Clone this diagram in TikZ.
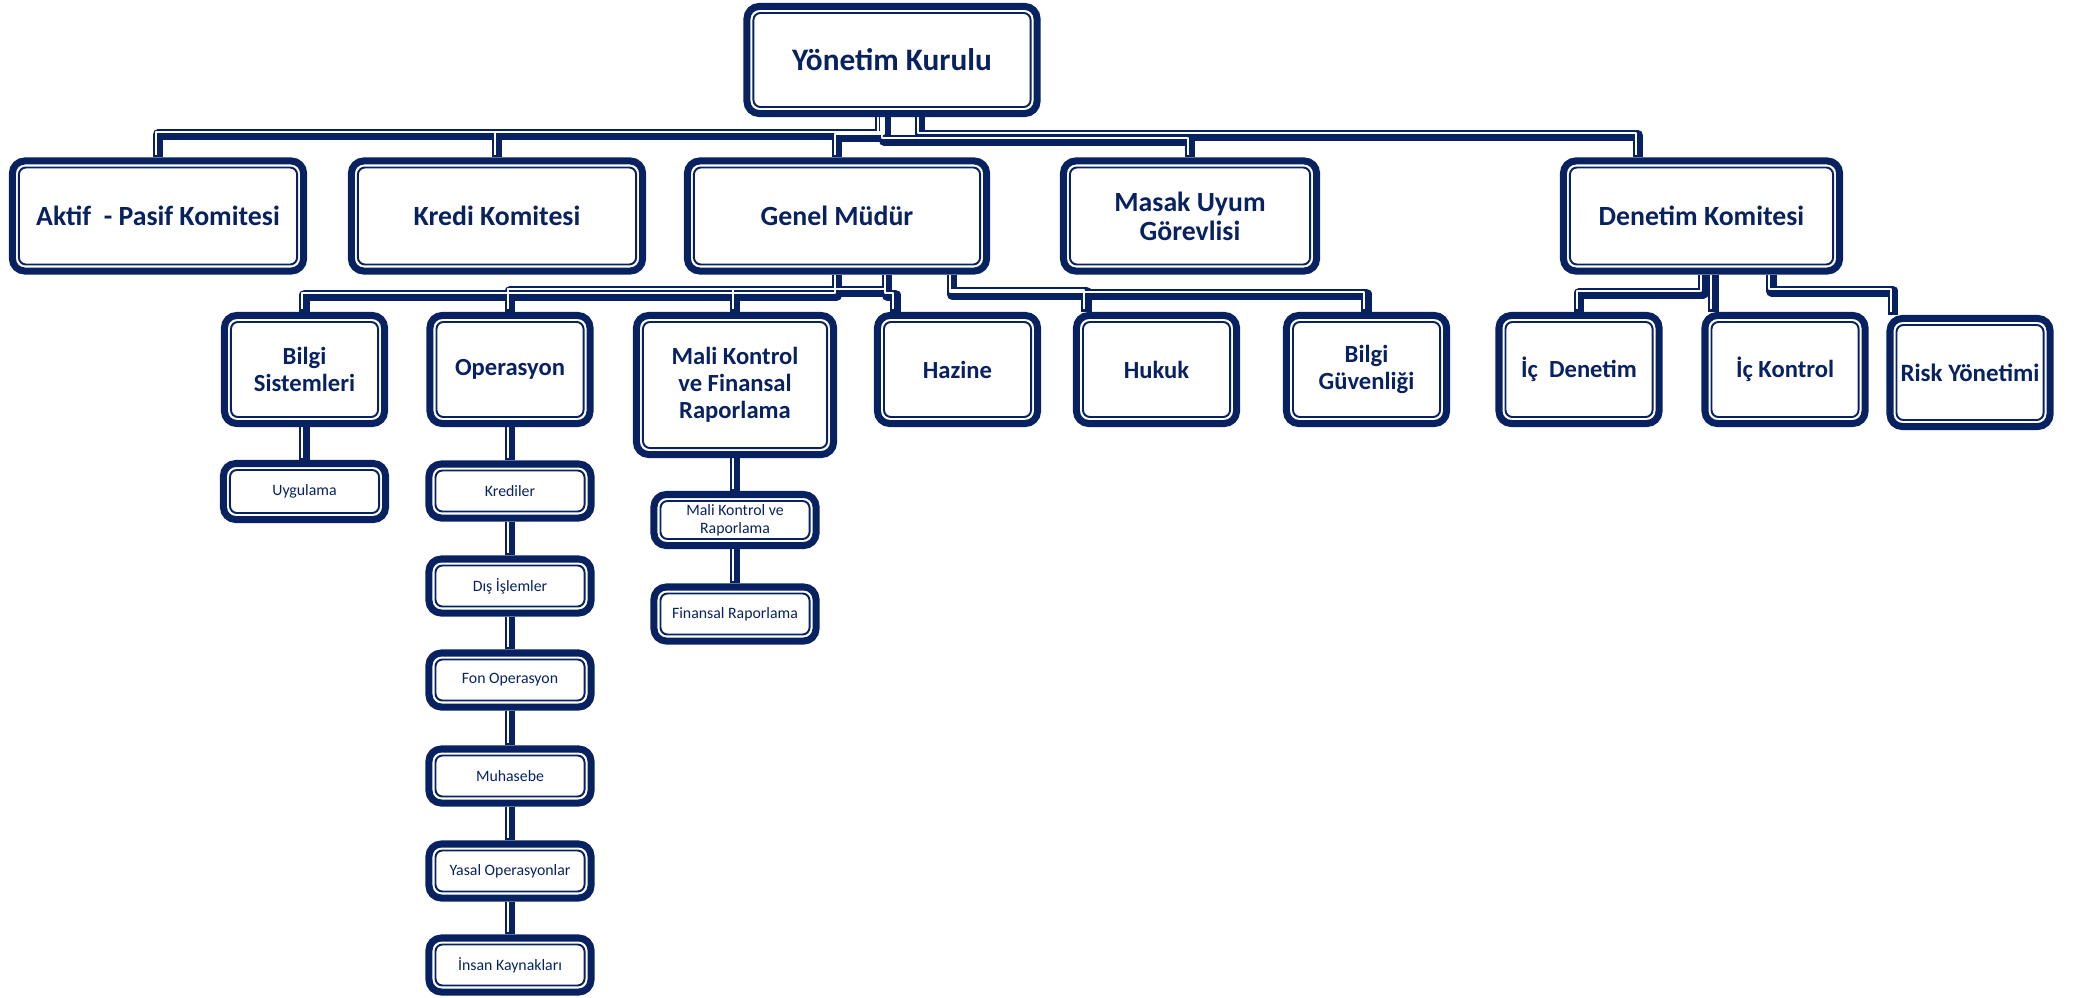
\documentclass[tikz,border=0pt]{standalone}
\usepackage{fontspec}
\setmainfont{Carlito}
\usepackage{xcolor}
\usepackage{tikz}
\usetikzlibrary{backgrounds}
\definecolor{navy}{RGB}{8,34,97}

% parent/drop x/drop length/child/child x
\def\treelinks{yk/-9/17.5/aktif/0, yk/-12/17.5/kredi/0, yk/-6/19.5/genel/0,
  yk/-8/23.5/masak/0, yk/28/18.5/denetim/-63.5,
  genel/0/20.5/bilsis/0, genel/50/16.5/opr/0, genel/0/16.5/mali/0,
  genel/50/20.5/hazine/-62, genel/115/17.5/hukuk/-70, genel/115/19.5/bilguv/0,
  denetim/2/18.5/icden/0, denetim/12/18.5/ickon/-71.5, denetim/70/16.5/risk/-77}
\def\chainlinks{bilsis/uyg, opr/kred, kred/dis, dis/fon, fon/muh, muh/yasal,
  yasal/insan, mali/mkr, mkr/finr}

\begin{document}
\begin{tikzpicture}[x=0.01cm, y=-0.01cm,
    box/.style={rectangle, draw=navy, line width=2pt, fill=white,
        rounded corners=3.5pt, inner sep=0pt,
        path picture={\draw[navy, line width=0.55pt, rounded corners=2pt]
            ([shift={(1.85pt,-1.85pt)}]path picture bounding box.north west) rectangle
            ([shift={(-1.85pt,1.85pt)}]path picture bounding box.south east);}},
    headbox/.style={box, minimum height=1.07cm},
    commbox/.style={box, minimum height=1.10cm},
    unitbox/.style={box, minimum width=1.60cm, minimum height=1.08cm},
    subbox/.style={box, minimum width=1.62cm, minimum height=0.54cm},
    headtext/.style={text=navy, align=center, inner sep=0pt,
        font=\fontsize{8.9}{10}\selectfont\bfseries},
    commtext/.style={headtext, font=\fontsize{7.9}{8.3}\selectfont\bfseries},
    unittext/.style={headtext, font=\fontsize{7}{7.7}\selectfont\bfseries},
    subtext/.style={headtext, font=\fontsize{4.5}{5.2}\selectfont},
    linkback/.style={draw=navy, line width=3.1pt, line join=round},
    linkgap/.style={draw=white, line width=0.57pt, line join=round,
        transform canvas={shift={(-0.7pt,0.7pt)}}}
    ]

    \useasboundingbox (0,0) rectangle (2080,997);

    %board
    \node[headbox,
          minimum width = 2.90cm
          ] (yk) at (892,60) {};
    \node[headtext] (yk-t) at (yk.center) {Yönetim Kurulu};

    %committees
    \node[commbox, minimum width = 2.91cm] (aktif) at (158,216) {};
    \node[commtext] (aktif-t) at (aktif.center) {Aktif~ - Pasif Komitesi};

    \node[commbox, minimum width = 2.91cm] (kredi) at (497,216) {};
    \node[commtext] (kredi-t) at (kredi.center) {Kredi Komitesi};

    \node[commbox, minimum width = 2.99cm] (genel) at (837,216) {};
    \node[commtext] (genel-t) at (genel.center) {Genel Müdür};

    \node[commbox, minimum width = 2.53cm] (masak) at (1190,216) {};
    \node[commtext] (masak-t) at (masak.center) {Masak Uyum\\Görevlisi};

    \node[commbox, minimum width = 2.76cm] (denetim) at (1701.5,216) {};
    \node[commtext] (denetim-t) at (denetim.center) {Denetim Komitesi};

    %units
    \node[unitbox] (bilsis) at (304.5,369.5) {};
    \node[unittext] (bilsis-t) at (bilsis.center) {Bilgi\\Sistemleri};

    \node[unitbox] (opr) at (510,369.5) {};
    \node[unittext] (opr-t) at (opr.center) {Operasyon};

    \node[unitbox,
          minimum width = 1.97cm,
          minimum height = 1.39cm
          ] (mali) at (735,385) {};
    \node[unittext] (mali-t) at (mali.center) {Mali Kontrol\\ve Finansal\\Raporlama};

    \node[unitbox] (hazine) at (957.5,369.5) {};
    \node[unittext] (hazine-t) at (hazine.center) {Hazine};

    \node[unitbox] (hukuk) at (1156.5,369.5) {};
    \node[unittext] (hukuk-t) at (hukuk.center) {Hukuk};

    \node[unitbox] (bilguv) at (1366.5,369.5) {};
    \node[unittext] (bilguv-t) at (bilguv.center) {Bilgi\\Güvenliği};

    \node[unitbox] (icden) at (1579,369.5) {};
    \node[unittext] (icden-t) at (icden.center) {İç~ Denetim};

    \node[unitbox] (ickon) at (1785,369.5) {};
    \node[unittext] (ickon-t) at (ickon.center) {İç Kontrol};

    \node[unitbox] (risk) at (1970,372.5) {};
    \node[unittext, font=\fontsize{7.1}{8}\selectfont\bfseries] (risk-t) at (risk.center) {Risk Yönetimi};

    %sub units
    \node[subbox, minimum height = 0.56cm] (uyg) at (304.5,491.5) {};
    \node[subtext] (uyg-t) at (uyg.center) {Uygulama};

    \node[subbox] (kred) at (510,491) {};
    \node[subtext] (kred-t) at (kred.center) {Krediler};

    \node[subbox] (dis) at (510,586) {};
    \node[subtext] (dis-t) at (dis.center) {Dış İşlemler};

    \node[subbox] (fon) at (510,680) {};
    \node[subtext] (fon-t) at (fon.center) {Fon Operasyon};

    \node[subbox] (muh) at (510,776) {};
    \node[subtext] (muh-t) at (muh.center) {Muhasebe};

    \node[subbox] (yasal) at (510,871) {};
    \node[subtext] (yasal-t) at (yasal.center) {Yasal Operasyonlar};

    \node[subbox] (insan) at (510,965) {};
    \node[subtext] (insan-t) at (insan.center) {İnsan Kaynakları};

    \node[subbox, minimum height = 0.51cm] (mkr) at (735,520) {};
    \node[subtext] (mkr-t) at (mkr.center) {Mali Kontrol ve\\Raporlama};

    \node[subbox, minimum height = 0.54cm] (finr) at (735,614) {};
    \node[subtext] (finr-t) at (finr.center) {Finansal Raporlama};

    %links
    \begin{pgfonlayer}{background}
    \foreach \s in {linkback, linkgap} {
        \foreach \p/\dx/\dy/\c/\cx in \treelinks
            \draw[\s] ([shift={(\dx,0)}]\p.south) -- ++(0,\dy)
                -| ([shift={(\cx,0)}]\c.north);
        \foreach \a/\b in \chainlinks
            \draw[\s] (\a.south) -- (\b.north);
    }
    \end{pgfonlayer}

\end{tikzpicture}
\end{document}
